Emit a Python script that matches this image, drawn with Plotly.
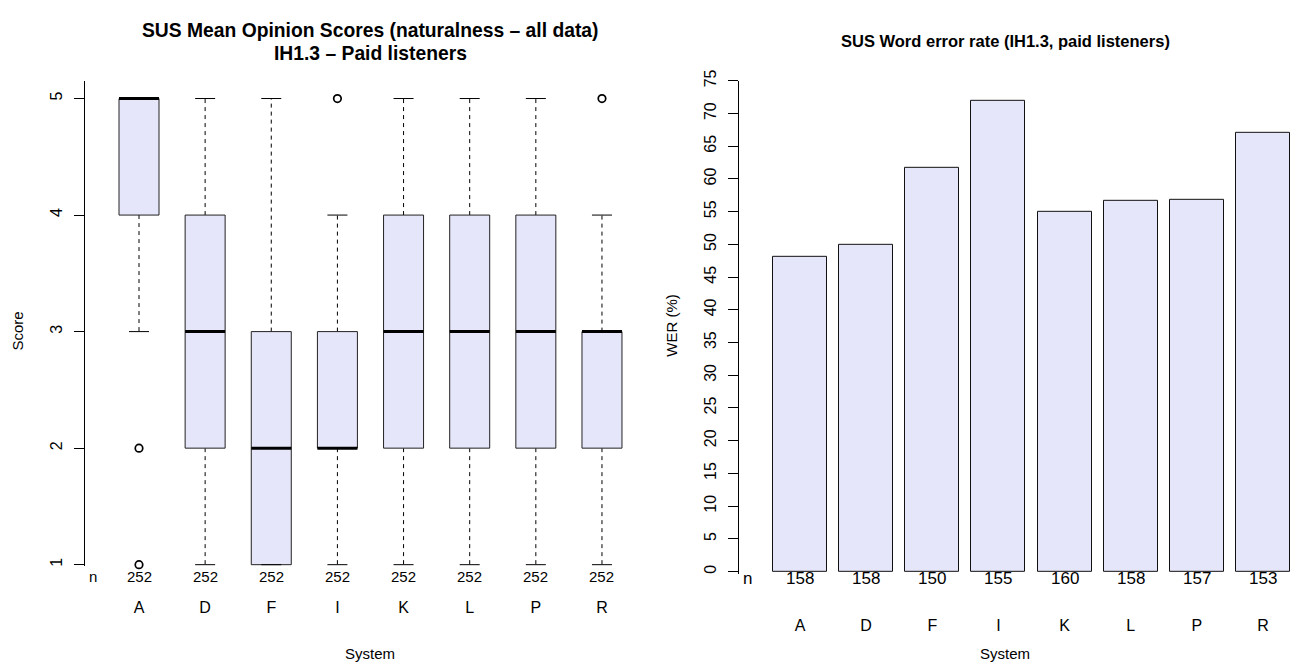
import plotly.graph_objects as go

# ---------------- data ----------------
systems = ["A", "D", "F", "I", "K", "L", "P", "R"]

mos_lower_whisker = [3, 1, 1, 1, 1, 1, 1, 1]
mos_q1 = [4, 2, 1, 2, 2, 2, 2, 2]
mos_median = [5, 3, 2, 2, 3, 3, 3, 3]
mos_q3 = [5, 4, 3, 3, 4, 4, 4, 3]
mos_upper_whisker = [5, 5, 5, 4, 5, 5, 5, 4]
mos_outliers = [[2, 1], [], [], [5], [], [], [], [5]]
mos_n = [252, 252, 252, 252, 252, 252, 252, 252]

wer_values = [48.1, 50.0, 61.7, 72.0, 55.0, 56.6, 56.8, 67.0]
wer_n = [158, 158, 150, 155, 160, 158, 157, 153]

mos_ticks = [1, 2, 3, 4, 5]
wer_ticks = list(range(0, 80, 5))

# ---------------- layout helpers ----------------
W, H = 1306, 665
FONT = "Liberation Sans, Arial, Helvetica, sans-serif"
FILL = "#E6E6FA"


def fx(p):
    return p / W


def fy(p):
    return 1 - p / H


pos = list(range(len(systems)))

# left panel geometry (pixels)
L_AXIS, L_RIGHT = 85, 656
L_FIRST, L_STEP = 139, 66.14
L_TOP, L_Y5, L_Y1 = 71, 89, 563
L_UNIT = (L_Y1 - L_Y5) / 4.0
# right panel geometry (pixels)
R_AXIS, R_RIGHT = 739, 1300
R_FIRST, R_STEP = 800, 66.14
R_TOP, R_Y0 = 71, 570
R_UNIT = (R_Y0 - R_TOP) / 75.0

hw = 20 / L_STEP   # half box width
cw = 10 / L_STEP   # half staple width

fig = go.Figure()

# whiskers (dashed)
wx, wy = [], []
for i in pos:
    if mos_upper_whisker[i] > mos_q3[i]:
        wx += [i, i, None]
        wy += [mos_q3[i], mos_upper_whisker[i], None]
    if mos_lower_whisker[i] < mos_q1[i]:
        wx += [i, i, None]
        wy += [mos_q1[i], mos_lower_whisker[i], None]
fig.add_trace(go.Scatter(x=wx, y=wy, mode="lines", xaxis="x", yaxis="y",
                         line=dict(color="black", width=1, dash="4px,4px"),
                         hoverinfo="skip", showlegend=False))

# boxes
bx, by = [], []
for i in pos:
    bx += [i - hw, i + hw, i + hw, i - hw, i - hw, None]
    by += [mos_q1[i], mos_q1[i], mos_q3[i], mos_q3[i], mos_q1[i], None]
fig.add_trace(go.Scatter(x=bx, y=by, mode="lines", fill="toself", fillcolor=FILL,
                         xaxis="x", yaxis="y",
                         line=dict(color="#222222", width=1),
                         hoverinfo="skip", showlegend=False))

# staples
sx, sy = [], []
for i in pos:
    for v in (mos_upper_whisker[i], mos_lower_whisker[i]):
        sx += [i - cw, i + cw, None]
        sy += [v, v, None]
fig.add_trace(go.Scatter(x=sx, y=sy, mode="lines", xaxis="x", yaxis="y",
                         line=dict(color="black", width=1),
                         hoverinfo="skip", showlegend=False))

# medians
mx, my = [], []
for i in pos:
    mx += [i - hw, i + hw, None]
    my += [mos_median[i], mos_median[i], None]
fig.add_trace(go.Scatter(x=mx, y=my, mode="lines", xaxis="x", yaxis="y",
                         line=dict(color="black", width=3),
                         hoverinfo="skip", showlegend=False))

# outliers
ox, oy = [], []
for i in pos:
    for v in mos_outliers[i]:
        ox.append(i)
        oy.append(v)
fig.add_trace(go.Scatter(x=ox, y=oy, mode="markers", xaxis="x", yaxis="y",
                         cliponaxis=False,
                         marker=dict(symbol="circle-open", size=7.5, color="black",
                                     line=dict(width=1.7, color="black")),
                         hoverinfo="skip", showlegend=False))

# bars
fig.add_trace(go.Bar(x=pos, y=wer_values, width=54 / R_STEP, xaxis="x2", yaxis="y2",
                     marker=dict(color=FILL, line=dict(color="#111111", width=1)),
                     hoverinfo="skip", showlegend=False))

# ---------------- annotations ----------------
def txt(text, x, y, size, xref="paper", angle=0, bold=False):
    return dict(text=f"<b>{text}</b>" if bold else text, x=x, y=y, xref=xref, yref="paper",
                xanchor="center", yanchor="middle", textangle=angle, showarrow=False,
                font=dict(size=size, family=FONT, color="black"))


ann = [
    txt("SUS Mean Opinion Scores (naturalness – all data)", fx(370), fy(20), 19.3, bold=True),
    txt("IH1.3 – Paid listeners", fx(371), fy(43), 19.3, bold=True),
    txt("SUS Word error rate (IH1.3, paid listeners)", fx(1005), fy(31), 16.5, bold=True),
    txt("Score", fx(18), fy(326), 15, angle=-90),
    txt("WER (%)", fx(672), fy(320), 15, angle=-90),
    txt("System", fx(370), fy(653), 15),
    txt("System", fx(1005), fy(653), 15),
    txt("n", fx(93), fy(575), 15),
    txt("n", fx(747), fy(577), 17),
]
for i in pos:
    ann.append(txt(str(mos_n[i]), i, fy(575), 15, xref="x"))
    ann.append(txt(str(wer_n[i]), i, fy(577), 17, xref="x2"))

# ---------------- axes ----------------
y_left_bottom = 1 - 0.015

fig.update_layout(
    width=W, height=H,
    margin=dict(l=0, r=0, t=0, b=0),
    paper_bgcolor="white", plot_bgcolor="white",
    font=dict(family=FONT, color="black"),
    annotations=ann,
    xaxis=dict(domain=[fx(L_AXIS), fx(L_RIGHT)],
               range=[-(L_FIRST - L_AXIS) / L_STEP, (L_RIGHT - L_FIRST) / L_STEP],
               tickvals=pos, ticktext=systems, ticks="outside", ticklen=26,
               tickcolor="rgba(0,0,0,0)", showline=False, showgrid=False, zeroline=False,
               tickfont=dict(size=16, family=FONT, color="black"), anchor="y", fixedrange=True),
    yaxis=dict(domain=[fy(L_Y1 + 0.015 * L_UNIT), fy(L_TOP)],
               range=[y_left_bottom, 5 + (L_Y5 - L_TOP) / L_UNIT],
               tickvals=mos_ticks, ticks="outside", ticklen=10, tickcolor="black",
               tickangle=-90, ticklabelstandoff=6,
               showline=True, linecolor="black", linewidth=1, showgrid=False, zeroline=False,
               tickfont=dict(size=16, family=FONT, color="black"), anchor="x", fixedrange=True),
    xaxis2=dict(domain=[fx(R_AXIS), fx(R_RIGHT)],
                range=[-(R_FIRST - R_AXIS) / R_STEP, (R_RIGHT - R_FIRST) / R_STEP],
                tickvals=pos, ticktext=systems, ticks="outside", ticklen=37,
                tickcolor="rgba(0,0,0,0)", showline=False, showgrid=False, zeroline=False,
                tickfont=dict(size=16, family=FONT, color="black"), anchor="y2", fixedrange=True),
    yaxis2=dict(domain=[fy(R_Y0 + 0.3 * R_UNIT), fy(R_TOP)], range=[-0.3, 75],
                tickvals=wer_ticks, ticks="outside", ticklen=10, tickcolor="black",
                tickangle=-90, ticklabelstandoff=6,
                showline=True, linecolor="black", linewidth=1, showgrid=False, zeroline=False,
                tickfont=dict(size=16, family=FONT, color="black"), anchor="x2", fixedrange=True),
    bargap=0,
)

fig.write_html("out.html")
